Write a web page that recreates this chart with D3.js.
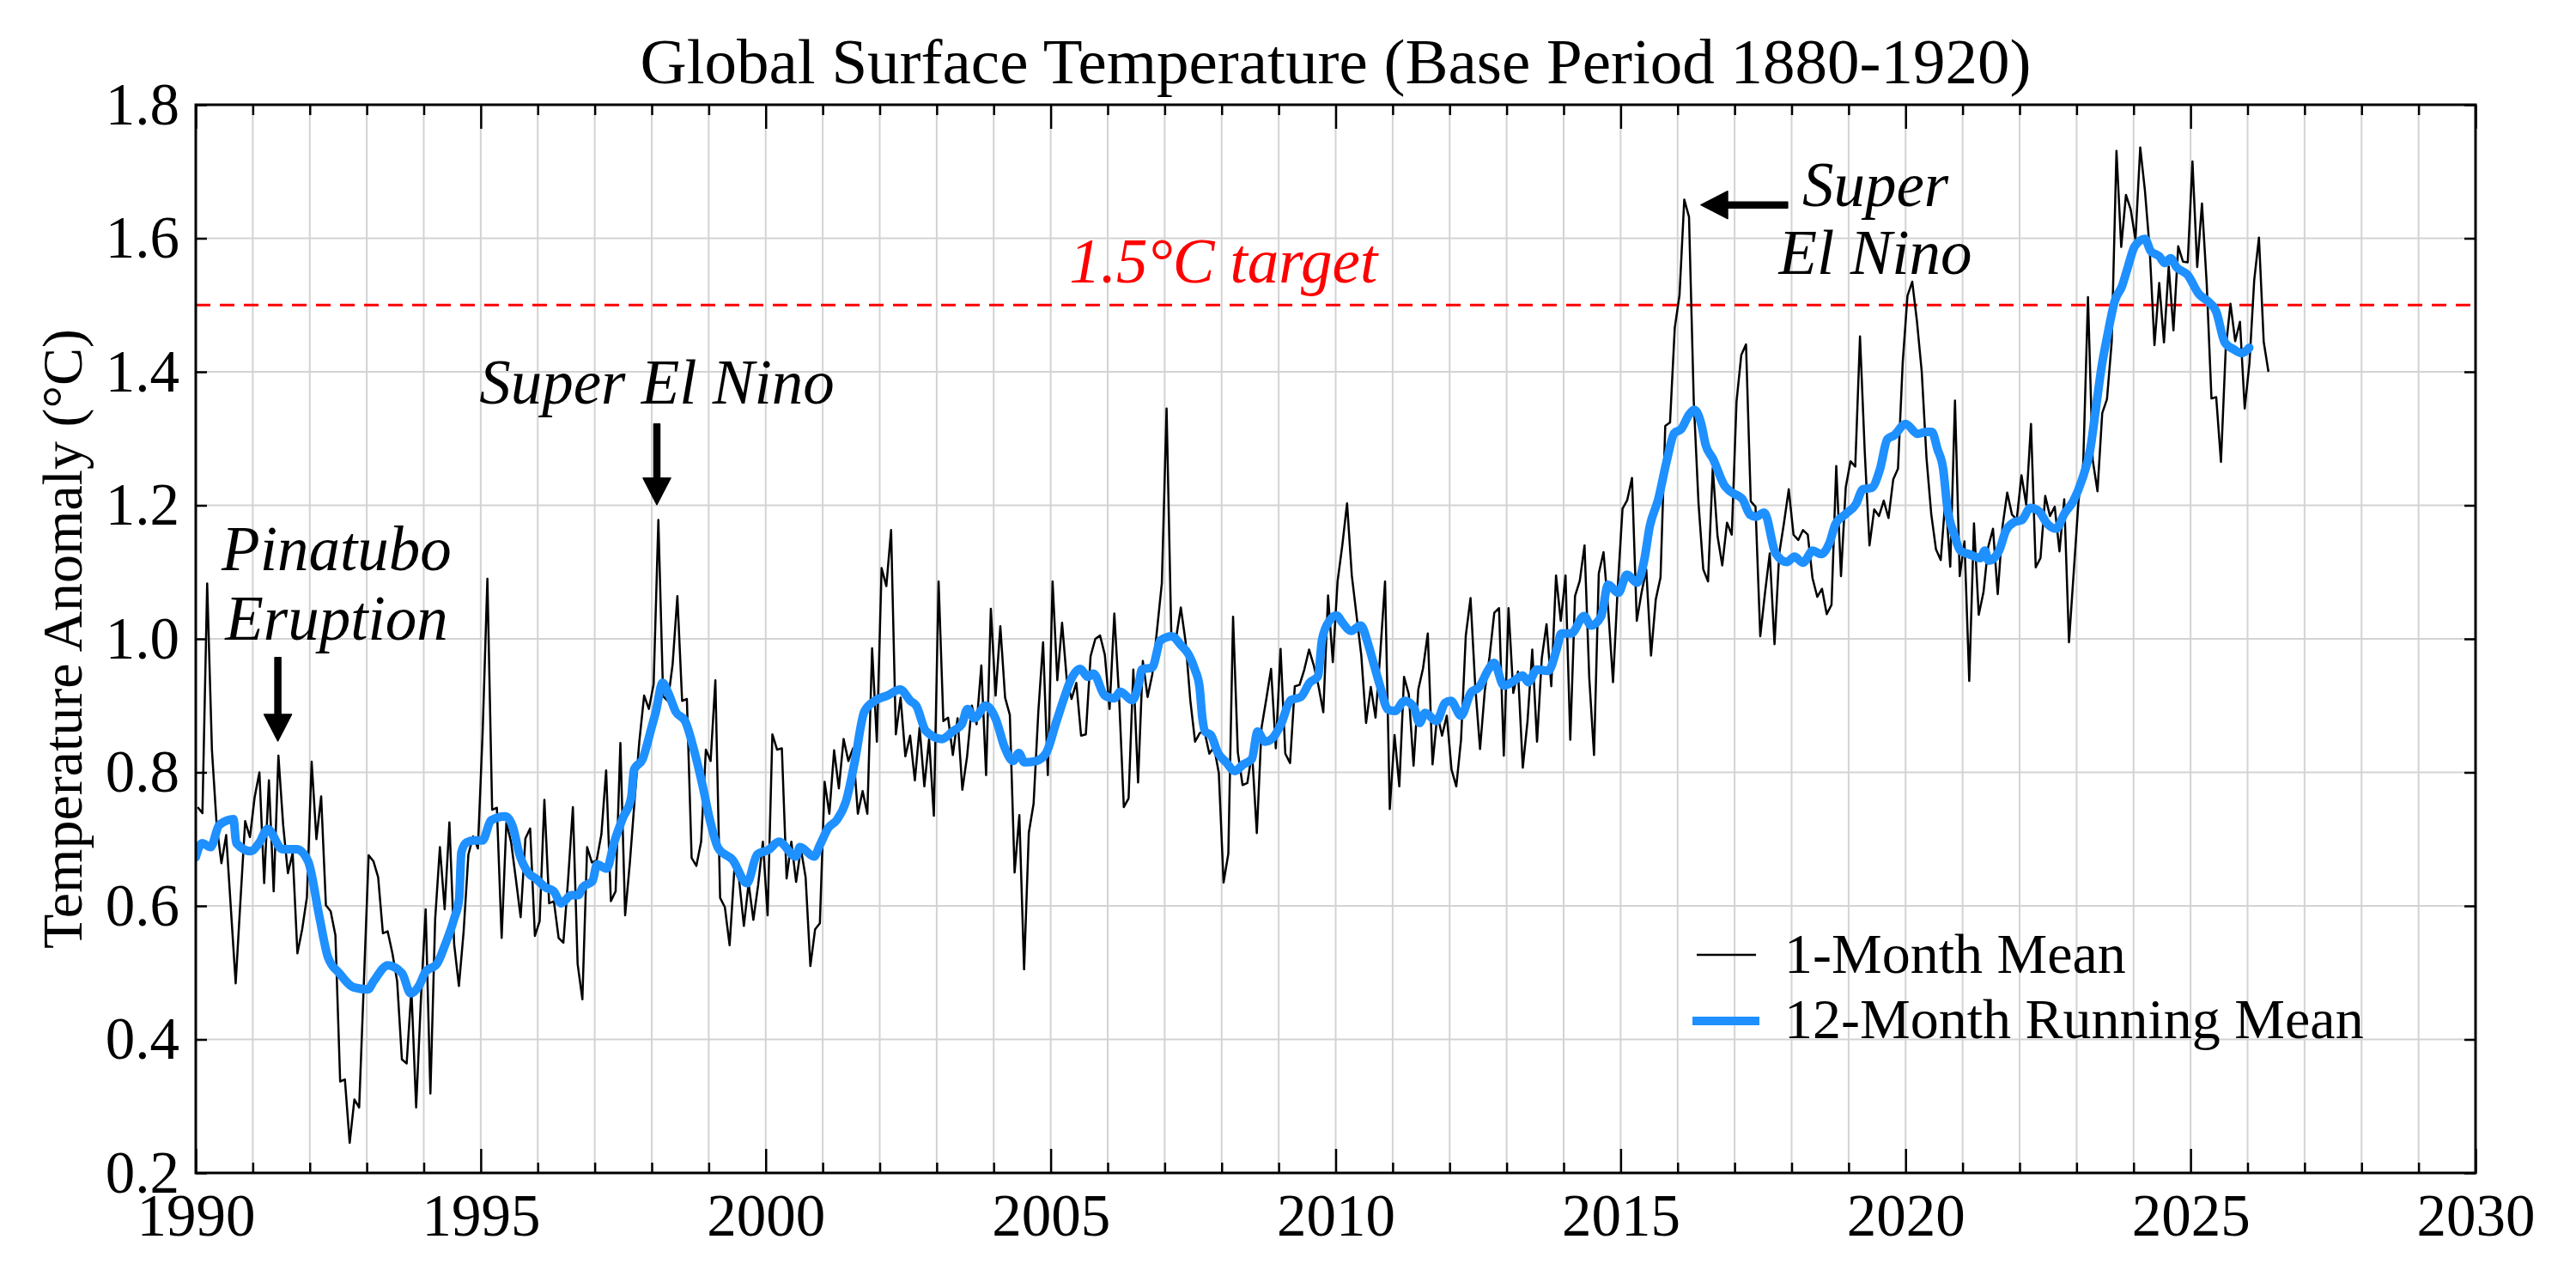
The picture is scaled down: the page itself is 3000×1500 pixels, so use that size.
<!DOCTYPE html>
<html><head><meta charset="utf-8">
<script src="https://cdn.jsdelivr.net/npm/d3@7"></script>
<style>body{margin:0;background:#fff} svg{display:block}</style>
</head><body>
<svg id="chart" width="3000" height="1500"></svg>
<script>
// ---------------- DATA ----------------
const startYear = 1990;
// 1-month mean anomaly, monthly from Jan 1990
const monthlyValues = [
0.748,0.739,1.083,0.834,0.721,0.664,0.706,0.595,0.484,0.607,
0.727,0.703,0.763,0.800,0.634,0.788,0.622,0.825,0.721,0.649,
0.679,0.529,0.565,0.613,0.816,0.700,0.764,0.601,0.592,0.556,
0.337,0.340,0.245,0.310,0.298,0.487,0.676,0.667,0.643,0.559,
0.562,0.529,0.487,0.370,0.364,0.475,0.298,0.460,0.595,0.319,
0.580,0.688,0.595,0.725,0.543,0.480,0.562,0.677,0.704,0.686,
0.860,1.090,0.744,0.747,0.552,0.725,0.695,0.640,0.583,0.701,
0.716,0.555,0.577,0.759,0.604,0.607,0.552,0.545,0.640,0.748,
0.513,0.460,0.688,0.665,0.668,0.707,0.803,0.607,0.622,0.844,
0.586,0.665,0.759,0.847,0.915,0.895,0.932,1.178,0.914,0.907,
0.962,1.064,0.907,0.910,0.672,0.660,0.696,0.834,0.817,0.938,
0.612,0.598,0.541,0.655,0.639,0.570,0.634,0.579,0.631,0.696,
0.586,0.857,0.834,0.836,0.641,0.696,0.636,0.686,0.643,0.510,
0.565,0.574,0.786,0.738,0.833,0.776,0.850,0.817,0.836,0.738,
0.772,0.738,0.986,0.846,1.106,1.079,1.163,0.857,0.912,0.824,
0.855,0.788,0.867,0.779,0.850,0.735,1.086,0.877,0.882,0.826,
0.881,0.774,0.824,0.900,0.872,0.960,0.796,1.045,0.915,1.019,
0.912,0.886,0.650,0.736,0.505,0.710,0.753,0.891,0.995,0.796,
1.086,0.938,1.024,0.938,0.910,0.934,0.855,0.857,0.974,1.000,
1.005,0.976,0.895,1.038,0.913,0.748,0.761,0.954,0.785,0.967,
0.913,0.947,1.014,1.083,1.345,1.004,1.001,1.047,0.996,0.908,
0.846,0.859,0.861,0.828,0.838,0.799,0.635,0.678,1.033,0.830,
0.781,0.784,0.830,0.709,0.867,0.910,0.955,0.836,0.985,0.828,
0.814,0.929,0.931,0.954,0.984,0.960,0.929,0.890,1.065,0.965,
1.086,1.140,1.203,1.095,1.035,0.975,0.874,0.928,0.882,0.979,
1.086,0.745,0.856,0.779,0.943,0.917,0.810,0.924,0.956,1.008,
0.812,0.887,0.855,0.885,0.804,0.779,0.849,1.005,1.061,0.928,
0.835,0.922,0.973,1.039,1.046,0.825,1.046,0.919,0.951,0.807,
0.877,0.984,0.846,0.971,1.022,0.929,1.095,1.027,1.095,0.849,
1.064,1.087,1.140,0.941,0.826,1.098,1.130,1.043,0.935,1.078,
1.195,1.208,1.241,1.027,1.069,1.104,0.975,1.059,1.092,1.319,
1.324,1.466,1.515,1.658,1.632,1.356,1.203,1.104,1.086,1.256,
1.154,1.110,1.174,1.156,1.355,1.425,1.441,1.206,1.198,1.004,
1.069,1.128,0.992,1.128,1.174,1.224,1.156,1.148,1.163,1.156,
1.091,1.063,1.075,1.037,1.051,1.259,1.094,1.227,1.266,1.258,
1.453,1.280,1.140,1.194,1.184,1.207,1.181,1.239,1.255,1.415,
1.514,1.535,1.475,1.400,1.271,1.187,1.134,1.118,1.211,1.108,
1.357,1.094,1.146,0.937,1.173,1.036,1.070,1.138,1.165,1.067,
1.168,1.219,1.186,1.179,1.245,1.201,1.322,1.107,1.121,1.214,
1.184,1.198,1.131,1.209,0.995,1.100,1.206,1.263,1.512,1.268,
1.221,1.338,1.359,1.445,1.731,1.587,1.665,1.643,1.598,1.736,
1.671,1.583,1.440,1.533,1.444,1.558,1.462,1.588,1.565,1.564,
1.715,1.557,1.652,1.532,1.360,1.362,1.265,1.434,1.502,1.446,
1.475,1.345,1.413,1.537,1.601,1.445,1.400
];
// 12-month running mean (decimal year, value)
const runningYears = [
1990.00,1990.11,1990.26,1990.41,1990.66,1990.71,1990.96,1991.11,1991.26,1991.52,1991.77,1991.97,1992.17,1992.32,1992.52,1992.77,1993.02,1993.12,1993.37,1993.62,1993.77,1993.92,
1994.03,1994.23,1994.38,1994.53,1994.62,1994.66,1994.75,1994.88,1995.03,1995.18,1995.43,1995.56,1995.68,1995.83,1995.98,1996.13,1996.28,1996.41,1996.59,1996.71,1996.79,1996.96,1997.04,1997.21,1997.34,1997.49,1997.64,1997.69,1997.84,1997.99,
1998.07,1998.19,1998.29,1998.42,1998.59,1998.74,1998.89,1999.02,1999.17,1999.42,1999.67,1999.85,2000.05,2000.23,2000.53,2000.60,2000.85,2000.95,2001.10,2001.25,2001.41,2001.56,2001.73,2001.91,
2002.13,2002.36,2002.54,2002.64,2002.81,2003.09,2003.29,2003.44,2003.54,2003.66,2003.86,2004.04,2004.19,2004.34,2004.44,2004.54,2004.74,2004.92,2005.10,2005.25,2005.35,2005.52,2005.65,2005.75,2005.95,
2006.12,2006.22,2006.43,2006.55,2006.60,2006.78,2006.93,2007.13,2007.28,2007.43,2007.53,2007.61,2007.66,2007.71,2007.81,2007.93,2008.08,2008.23,2008.38,2008.53,2008.63,2008.76,2008.89,2009.04,2009.21,2009.39,2009.54,2009.69,2009.76,2009.89,
2010.02,2010.12,2010.27,2010.44,2010.57,2010.67,2010.77,2010.92,2011.04,2011.21,2011.37,2011.47,2011.57,2011.77,2011.92,2012.02,2012.20,2012.37,2012.52,2012.68,2012.78,2012.95,2013.13,2013.28,2013.38,2013.53,2013.73,2013.88,2013.96,
2014.13,2014.36,2014.48,2014.66,2014.78,2014.96,2015.11,2015.29,2015.41,2015.51,2015.66,2015.81,2015.94,2016.06,2016.21,2016.29,2016.42,2016.49,2016.62,2016.82,2016.92,2017.14,2017.27,2017.37,2017.52,2017.72,2017.92,
2018.05,2018.20,2018.37,2018.52,2018.67,2018.77,2018.95,2019.13,2019.25,2019.40,2019.55,2019.68,2019.80,2020.00,2020.21,2020.36,2020.46,2020.56,2020.66,2020.73,2020.86,2020.96,2021.11,2021.31,2021.39,2021.46,2021.64,2021.76,2021.91,
2022.04,2022.19,2022.34,2022.49,2022.64,2022.79,2022.94,2023.09,2023.24,2023.34,2023.44,2023.54,2023.67,2023.80,2023.90,2024.02,2024.20,2024.30,2024.45,2024.55,2024.65,2024.75,2024.95,2025.15,2025.30,2025.45,2025.60,2025.75,2025.90,2026.03
];
const runningValues = [
0.673,0.694,0.688,0.721,0.730,0.694,0.682,0.694,0.715,0.685,0.685,0.667,0.583,0.523,0.499,0.478,0.475,0.487,0.511,0.499,0.469,0.481,
0.501,0.513,0.543,0.580,0.610,0.680,0.695,0.698,0.698,0.728,0.734,0.719,0.677,0.650,0.640,0.628,0.622,0.604,0.616,0.616,0.628,0.637,0.662,0.656,0.695,0.731,0.762,0.804,0.820,0.865,
0.890,0.934,0.919,0.891,0.876,0.834,0.781,0.729,0.686,0.669,0.634,0.677,0.684,0.696,0.674,0.688,0.674,0.691,0.717,0.729,0.757,0.815,0.891,0.907,
0.915,0.924,0.907,0.900,0.862,0.850,0.862,0.872,0.895,0.881,0.900,0.879,0.838,0.817,0.829,0.815,0.817,0.829,0.876,0.915,0.938,0.955,0.943,0.948,0.915,
0.911,0.921,0.908,0.934,0.954,0.957,0.998,1.004,0.991,0.975,0.954,0.929,0.882,0.861,0.856,0.830,0.815,0.802,0.812,0.820,0.861,0.846,0.851,0.872,0.908,0.913,0.934,0.944,0.998,1.027,
1.035,1.024,1.012,1.020,0.992,0.962,0.932,0.894,0.892,0.907,0.898,0.874,0.889,0.877,0.904,0.907,0.885,0.919,0.928,0.954,0.964,0.930,0.937,0.945,0.935,0.954,0.952,0.985,1.008,
1.008,1.034,1.020,1.034,1.081,1.069,1.096,1.084,1.116,1.168,1.209,1.267,1.308,1.314,1.337,1.343,1.320,1.291,1.270,1.230,1.221,1.209,1.186,1.183,1.189,1.128,1.115,
1.123,1.114,1.132,1.127,1.145,1.172,1.187,1.202,1.224,1.226,1.254,1.299,1.305,1.322,1.307,1.310,1.310,1.284,1.254,1.198,1.155,1.132,1.127,1.121,1.132,1.117,1.132,1.162,1.175,
1.178,1.196,1.191,1.172,1.165,1.188,1.206,1.237,1.284,1.346,1.408,1.454,1.506,1.529,1.557,1.588,1.599,1.581,1.573,1.563,1.570,1.557,1.545,1.516,1.506,1.490,1.444,1.434,1.428,1.436
];
const xDomain = [1990, 2030];
const yDomain = [0.2, 1.8];
const xMajorTicks = [1990,1995,2000,2005,2010,2015,2020,2025,2030];
const yTickValues = [0.2,0.4,0.6,0.8,1.0,1.2,1.4,1.6,1.8];
const targetValue = 1.5;
const titleText = "Global Surface Temperature (Base Period 1880-1920)";
const yLabelText = "Temperature Anomaly (°C)";
const legendLabels = ["1-Month Mean", "12-Month Running Mean"];

// ---------------- LAYOUT ----------------
const svg = d3.select("#chart");
const W = 3000, H = 1500;
const m = {left: 228, right: 3000 - 2883, top: 122, bottom: 1500 - 1366};
const x = d3.scaleLinear().domain(xDomain).range([m.left, W - m.right]);
const y = d3.scaleLinear().domain(yDomain).range([H - m.bottom, m.top]);
const serif = "'Liberation Serif','Times New Roman',Times,serif";
const gridColor = "#d3d3d3";
const blue = "#1E90FF";

svg.append("rect").attr("width", W).attr("height", H).attr("fill", "#fff");

const yearTicks = d3.range(xDomain[0], xDomain[1] + 1);
// grid
const grid = svg.append("g");
grid.selectAll("line.v").data(yearTicks.slice(1, -1)).join("line")
  .attr("x1", d => x(d)).attr("x2", d => x(d))
  .attr("y1", y(yDomain[0])).attr("y2", y(yDomain[1]))
  .attr("stroke", gridColor).attr("stroke-width", 2);
grid.selectAll("line.h").data(yTickValues.slice(1, -1)).join("line")
  .attr("y1", d => y(d)).attr("y2", d => y(d))
  .attr("x1", x(xDomain[0])).attr("x2", x(xDomain[1]))
  .attr("stroke", gridColor).attr("stroke-width", 2);

// clip
svg.append("clipPath").attr("id", "clip").append("rect")
  .attr("x", x(xDomain[0])).attr("y", y(yDomain[1]))
  .attr("width", x(xDomain[1]) - x(xDomain[0])).attr("height", y(yDomain[0]) - y(yDomain[1]));

const plot = svg.append("g").attr("clip-path", "url(#clip)");

// target line
plot.append("line")
  .attr("x1", x(xDomain[0])).attr("x2", x(xDomain[1]))
  .attr("y1", y(targetValue)).attr("y2", y(targetValue))
  .attr("stroke", "#ff0000").attr("stroke-width", 3).attr("stroke-dasharray", "17,11");

// monthly line
const monthly = monthlyValues.map((v, i) => [startYear + (i + 0.4) / 12, v]);
plot.append("path").datum(monthly)
  .attr("fill", "none").attr("stroke", "#000").attr("stroke-width", 2.5).attr("stroke-linejoin", "round")
  .attr("d", d3.line().x(d => x(d[0])).y(d => y(d[1])));

// running mean
const running = runningYears.map((t, i) => [t, runningValues[i]]);
plot.append("path").datum(running)
  .attr("fill", "none").attr("stroke", blue).attr("stroke-width", 10)
  .attr("stroke-linejoin", "round").attr("stroke-linecap", "round")
  .attr("d", d3.line().curve(d3.curveMonotoneX).x(d => x(d[0])).y(d => y(d[1])));

// axes
const fmtY = d3.format(".1f");
const tickFont = 69;
function styleAxis(g) {
  g.select(".domain").remove();
  g.selectAll(".tick line").attr("stroke", "#000").attr("stroke-width", 2.5);
  g.selectAll("text").attr("font-family", serif).attr("font-size", tickFont).attr("fill", "#000");
}
// bottom minor
svg.append("g").attr("transform", `translate(0,${y(yDomain[0])})`)
  .call(d3.axisBottom(x).tickValues(yearTicks.filter(t => !xMajorTicks.includes(t))).tickSize(-12).tickFormat(""))
  .call(styleAxis);
svg.append("g").attr("transform", `translate(0,${y(yDomain[0])})`)
  .call(d3.axisBottom(x).tickValues(xMajorTicks).tickSizeInner(-28).tickSizeOuter(0).tickPadding(24).tickFormat(d3.format("d")))
  .call(styleAxis);
// top
svg.append("g").attr("transform", `translate(0,${y(yDomain[1])})`)
  .call(d3.axisTop(x).tickValues(yearTicks.filter(t => !xMajorTicks.includes(t))).tickSize(-12).tickFormat(""))
  .call(styleAxis);
svg.append("g").attr("transform", `translate(0,${y(yDomain[1])})`)
  .call(d3.axisTop(x).tickValues(xMajorTicks).tickSize(-28).tickFormat(""))
  .call(styleAxis);
// left
svg.append("g").attr("transform", `translate(${x(xDomain[0])},0)`)
  .call(d3.axisLeft(y).tickValues(yTickValues).tickSizeInner(-13).tickSizeOuter(0).tickPadding(19).tickFormat(fmtY))
  .call(styleAxis);
// right
svg.append("g").attr("transform", `translate(${x(xDomain[1])},0)`)
  .call(d3.axisRight(y).tickValues(yTickValues).tickSize(-13).tickFormat(""))
  .call(styleAxis);

// frame
svg.append("rect")
  .attr("x", x(xDomain[0])).attr("y", y(yDomain[1]))
  .attr("width", x(xDomain[1]) - x(xDomain[0])).attr("height", y(yDomain[0]) - y(yDomain[1]))
  .attr("fill", "none").attr("stroke", "#000").attr("stroke-width", 3);

// title
svg.append("text").attr("x", (x(xDomain[0]) + x(xDomain[1])) / 2).attr("y", 97)
  .attr("text-anchor", "middle").attr("font-family", serif).attr("font-size", 75)
  .text(titleText);

// y label
svg.append("text").attr("transform", `translate(95,${(y(yDomain[0]) + y(yDomain[1])) / 2}) rotate(-90)`)
  .attr("text-anchor", "middle").attr("font-family", serif).attr("font-size", 66)
  .text(yLabelText);

// annotations
const ann = svg.append("g").attr("font-family", serif).attr("font-style", "italic").attr("font-size", 73).attr("text-anchor", "middle");
function addText(t, yr, v, color) {
  ann.append("text").attr("x", x(yr)).attr("y", y(v)).attr("fill", color || "#000").text(t);
}
addText("Pinatubo", 1992.47, 1.103);
addText("Eruption", 1992.47, 0.999);
addText("Super El Nino", 1998.09, 1.352);
addText("Super", 2019.47, 1.648);
addText("El Nino", 2019.47, 1.547);
addText("1.5°C target", 2008.03, 1.534, "#ff0000");

function arrow(x0, y0, x1, y1) {
  // from (x0,y0) tail to (x1,y1) tip in pixel coords
  const dx = x1 - x0, dy = y1 - y0, L = Math.hypot(dx, dy);
  const ux = dx / L, uy = dy / L, px = -uy, py = ux;
  const hw = 3.5, hh = 16, hl = 31;
  const bx = x1 - ux * hl, by = y1 - uy * hl;
  const pts = [
    [x0 + px * hw, y0 + py * hw], [bx + px * hw, by + py * hw], [bx + px * hh, by + py * hh],
    [x1, y1], [bx - px * hh, by - py * hh], [bx - px * hw, by - py * hw], [x0 - px * hw, y0 - py * hw]
  ];
  svg.append("path").attr("d", "M" + pts.map(p => p.join(",")).join("L") + "Z")
    .attr("fill", "#000").attr("stroke", "#000").attr("stroke-width", 1.5).attr("stroke-linejoin", "round");
}
arrow(x(1991.44), y(0.972), x(1991.44), y(0.847));
arrow(x(1998.09), y(1.322), x(1998.09), y(1.201));
arrow(x(2017.93), y(1.650), x(2016.41), y(1.650));

// legend
const lg = svg.append("g");
lg.append("line").attr("x1", 1976).attr("x2", 2045).attr("y1", 1112).attr("y2", 1112)
  .attr("stroke", "#000").attr("stroke-width", 2.5);
lg.append("line").attr("x1", 1976).attr("x2", 2044).attr("y1", 1189).attr("y2", 1189)
  .attr("stroke", blue).attr("stroke-width", 10).attr("stroke-linecap", "square");
lg.append("text").attr("x", 2078).attr("y", 1133).attr("font-family", serif).attr("font-size", 66).text(legendLabels[0]);
lg.append("text").attr("x", 2078).attr("y", 1209).attr("font-family", serif).attr("font-size", 66).text(legendLabels[1]);
</script>
</body></html>
